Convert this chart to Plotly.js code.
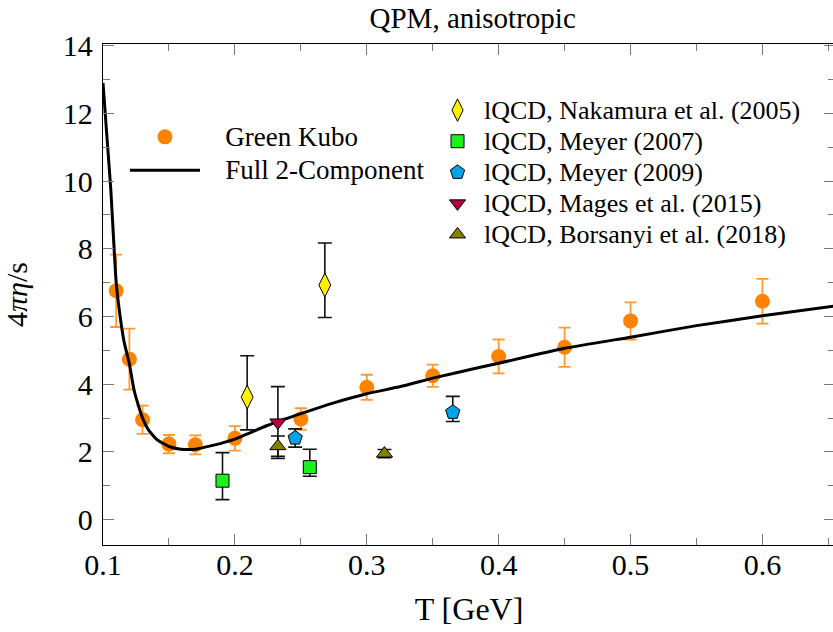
<!DOCTYPE html>
<html>
<head>
<meta charset="utf-8">
<script src="https://cdn.plot.ly/plotly-3.0.1.min.js"></script>
<style>html,body{margin:0;padding:0;overflow:hidden;background:#fff;}</style>
</head>
<body>
<div id="chart"></div>
<script>
// Green Kubo results (orange circles)
const gkT   = [0.110, 0.120, 0.130, 0.150, 0.170, 0.200, 0.250, 0.300, 0.350, 0.400, 0.450, 0.500, 0.600];
const gkVal = [6.76, 4.74, 2.95, 2.23, 2.21, 2.40, 2.97, 3.91, 4.25, 4.82, 5.09, 5.87, 6.45];
const gkErr = [1.07, 0.90, 0.42, 0.27, 0.28, 0.36, 0.32, 0.37, 0.33, 0.50, 0.58, 0.55, 0.66];

// Full 2-Component curve
const curveT   = [0.100, 0.103, 0.106, 0.108, 0.110, 0.113, 0.116, 0.120, 0.1234, 0.127, 0.130, 0.135, 0.141, 0.150, 0.159, 0.170, 0.184, 0.200, 0.2245, 0.250, 0.275, 0.300, 0.3256, 0.350, 0.386, 0.400, 0.450, 0.500, 0.550, 0.600, 0.655];
const curveVal = [12.90, 11.30, 9.70, 8.30, 7.00, 6.00, 5.25, 4.60, 3.85, 3.35, 3.00, 2.62, 2.36, 2.16, 2.08, 2.08, 2.20, 2.38, 2.78, 3.13, 3.45, 3.72, 3.93, 4.18, 4.50, 4.62, 5.06, 5.39, 5.73, 6.02, 6.31];

// Lattice QCD data
const nakT = [0.2093, 0.2682];
const nakVal = [3.62, 6.93];
const nakUp = [1.22, 1.24];
const nakDn = [0.97, 0.96];

const mey07T = [0.1906, 0.2568];
const mey07Val = [1.15, 1.55];
const mey07Up = [0.83, 0.53];
const mey07Dn = [0.56, 0.27];

const mey09T = [0.2457, 0.3652];
const mey09Val = [2.41, 3.17];
const mey09Up = [0.27, 0.47];
const mey09Dn = [0.27, 0.27];

const magT = [0.2326];
const magVal = [2.87];
const magErr = [1.06];

const borT = [0.2326, 0.3134];
const borVal = [2.17, 1.95];
const borErr = [0.30, 0.12];

const xTickVals = [0.1, 0.2, 0.3, 0.4, 0.5, 0.6];
const xTickText = ['0.1', '0.2', '0.3', '0.4', '0.5', '0.6'];
const yTickVals = [0, 2, 4, 6, 8, 10, 12, 14];
const yTickText = ['0', '2', '4', '6', '8', '10', '12', '14'];

const FONT = 'Liberation Serif';
const NB = '\u00a0';

function legName(text, size, pad) {
  return '<span style="font-size:' + size + 'px">' + NB.repeat(pad) + text + '</span>';
}

function latt(name, x, y, up, dn, symbol, color, size) {
  return {
    type: 'scatter', mode: 'markers', name: legName(name, 26, 1), x: x, y: y, legend: 'legend2',
    marker: {symbol: symbol, color: color, size: size, line: {color: '#000', width: 1}},
    error_y: {type: 'data', symmetric: false, array: up, arrayminus: dn, color: '#111', thickness: 1.6, width: 7},
    cliponaxis: false
  };
}

const traces = [
  {
    type: 'scatter', mode: 'markers', name: legName('Green Kubo', 27, 3), x: gkT, y: gkVal, legend: 'legend',
    marker: {color: '#ff8200', size: 15},
    error_y: {type: 'data', array: gkErr, color: '#ff9a33', thickness: 1.8, width: 6}
  },
  {
    type: 'scatter', mode: 'lines', name: legName('Full 2-Component', 27, 3), x: curveT, y: curveVal, legend: 'legend',
    line: {color: '#000', width: 3, shape: 'spline', smoothing: 0.4}
  },
  latt('lQCD, Nakamura et al. (2005)', nakT, nakVal, nakUp, nakDn, 'diamond-tall', '#fff000', 17),
  latt('lQCD, Meyer (2007)', mey07T, mey07Val, mey07Up, mey07Dn, 'square', '#1ef01e', 13),
  latt('lQCD, Meyer (2009)', mey09T, mey09Val, mey09Up, mey09Dn, 'pentagon', '#00a2e8', 15),
  latt('lQCD, Mages et al. (2015)', magT, magVal, magErr, magErr, 'triangle-down', '#b5003c', 14),
  latt('lQCD, Borsanyi et al. (2018)', borT, borVal, borErr, borErr, 'triangle-up', '#857f00', 14)
];

const layout = {
  width: 835, height: 632,
  margin: {l: 103, r: 0, t: 44, b: 87},
  paper_bgcolor: '#fff', plot_bgcolor: '#fff',
  font: {family: FONT, color: '#000', size: 26},
  title: {text: 'QPM, anisotropic', font: {family: FONT, size: 29, color: '#000'},
          xref: 'paper', x: 0.505, xanchor: 'center', yref: 'container', y: 0.972, yanchor: 'middle'},
  xaxis: {
    range: [0.1, 0.655], showgrid: false, zeroline: false,
    showline: true, linecolor: '#000', linewidth: 1.3, mirror: 'allticks',
    ticks: 'inside', ticklen: 11, tickcolor: '#777', tickwidth: 1,
    tickmode: 'array', tickvals: xTickVals, ticktext: xTickText,
    tickfont: {family: FONT, size: 30, color: '#000'}, ticklabelstandoff: -7,
    minor: {dtick: 0.05, tick0: 0.1, ticks: 'inside', ticklen: 7, tickcolor: '#777', tickwidth: 1, showgrid: false},
    title: {text: 'T [GeV]', font: {family: FONT, size: 32, color: '#000'}, standoff: 17}
  },
  yaxis: {
    range: [-0.75, 14.05], showgrid: false, zeroline: false,
    showline: true, linecolor: '#000', linewidth: 1.3, mirror: 'allticks',
    ticks: 'inside', ticklen: 11, tickcolor: '#777', tickwidth: 1,
    tickmode: 'array', tickvals: yTickVals, ticktext: yTickText,
    tickfont: {family: FONT, size: 30, color: '#000'}, ticklabelstandoff: 3,
    minor: {dtick: 1, tick0: 0, ticks: 'inside', ticklen: 7, tickcolor: '#777', tickwidth: 1, showgrid: false},
    title: {text: '4<i>πη</i>/s', font: {family: FONT, size: 30, color: '#000'}, standoff: 27}
  },
  legend: {
    x: 0.03, y: 0.858, xanchor: 'left', yanchor: 'top', bgcolor: 'rgba(0,0,0,0)',
    font: {family: FONT, size: 23.4, color: '#000'}, itemwidth: 70, traceorder: 'normal'
  },
  legend2: {
    x: 0.457, y: 0.909, xanchor: 'left', yanchor: 'top', bgcolor: 'rgba(0,0,0,0)',
    font: {family: FONT, size: 21.6, color: '#000'}, traceorder: 'normal'
  },
  showlegend: true
};

Plotly.newPlot('chart', traces, layout, {displayModeBar: false, staticPlot: true});
</script>
</body>
</html>
